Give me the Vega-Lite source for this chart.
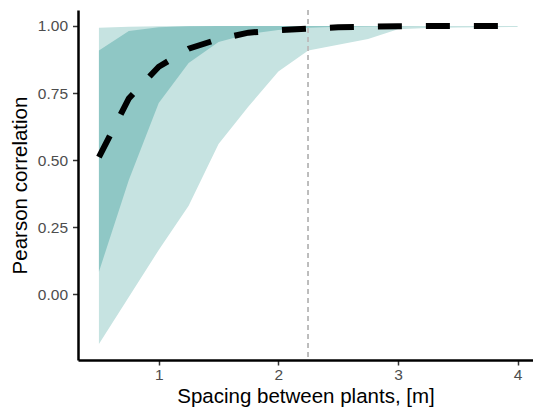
{
  "$schema": "https://vega.github.io/schema/vega-lite/v6.json",
  "width": 455,
  "height": 350,
  "autosize": {"type": "none"},
  "padding": {"left": 78, "top": 10, "right": 0, "bottom": 50},
  "background": "white",
  "config": {"view": {"stroke": null}, "font": "Liberation Sans"},
  "data": {
    "values": [
      {"x": 0.5, "outer_lo": -0.185, "outer_hi": 0.993, "inner_lo": 0.084, "inner_hi": 0.909, "median": 0.511},
      {"x": 0.75, "outer_lo": -0.01, "outer_hi": 0.997, "inner_lo": 0.426, "inner_hi": 0.981, "median": 0.73},
      {"x": 1.0, "outer_lo": 0.165, "outer_hi": 0.999, "inner_lo": 0.713, "inner_hi": 0.995, "median": 0.848},
      {"x": 1.25, "outer_lo": 0.33, "outer_hi": 1.0, "inner_lo": 0.862, "inner_hi": 0.999, "median": 0.915},
      {"x": 1.5, "outer_lo": 0.56, "outer_hi": 1.0, "inner_lo": 0.94, "inner_hi": 1.0, "median": 0.951},
      {"x": 1.75, "outer_lo": 0.7, "outer_hi": 1.0, "inner_lo": 0.97, "inner_hi": 1.0, "median": 0.975},
      {"x": 2.0, "outer_lo": 0.83, "outer_hi": 1.0, "inner_lo": 0.985, "inner_hi": 1.0, "median": 0.984},
      {"x": 2.25, "outer_lo": 0.909, "outer_hi": 1.0, "inner_lo": 0.993, "inner_hi": 1.0, "median": 0.99},
      {"x": 2.5, "outer_lo": 0.93, "outer_hi": 1.0, "inner_lo": 0.997, "inner_hi": 1.0, "median": 0.995},
      {"x": 2.75, "outer_lo": 0.951, "outer_hi": 1.0, "inner_lo": 0.998, "inner_hi": 1.0, "median": 0.997},
      {"x": 3.0, "outer_lo": 0.988, "outer_hi": 1.0, "inner_lo": 0.999, "inner_hi": 1.0, "median": 0.999},
      {"x": 3.25, "outer_lo": 0.992, "outer_hi": 1.0, "inner_lo": 1.0, "inner_hi": 1.0, "median": 1.0},
      {"x": 3.5, "outer_lo": 0.994, "outer_hi": 1.0, "inner_lo": 1.0, "inner_hi": 1.0, "median": 1.0},
      {"x": 3.75, "outer_lo": 0.995, "outer_hi": 1.0, "inner_lo": 1.0, "inner_hi": 1.0, "median": 1.0},
      {"x": 4.0, "outer_lo": 0.996, "outer_hi": 1.0, "inner_lo": 1.0, "inner_hi": 1.0, "median": 1.0}
    ]
  },
  "layer": [
    {
      "mark": {"type": "area", "color": "#c6e3e1", "opacity": 1},
      "encoding": {
        "x": {
          "field": "x", "type": "quantitative",
          "scale": {"domain": [0.325, 4.129], "nice": false, "zero": false},
          "axis": {
            "values": [1, 2, 3, 4], "format": "d", "grid": false,
            "domainColor": "black", "domainWidth": 2.5,
            "tickColor": "#333333", "tickSize": 5, "tickWidth": 1.5,
            "labelFontSize": 15.5, "labelColor": "#4d4d4d", "labelPadding": 2,
            "title": "Spacing between plants, [m]",
            "titleFontSize": 20.5, "titleFontWeight": "normal", "titleColor": "black", "titlePadding": 4
          }
        },
        "y": {
          "field": "outer_lo", "type": "quantitative",
          "scale": {"domain": [-0.245, 1.0595], "nice": false, "zero": false},
          "axis": {
            "values": [0, 0.25, 0.5, 0.75, 1], "format": ".2f", "grid": false,
            "domainColor": "black", "domainWidth": 2.5,
            "tickColor": "#333333", "tickSize": 5.5, "tickWidth": 1.5,
            "labelFontSize": 15.5, "labelColor": "#4d4d4d", "labelPadding": 5,
            "title": "Pearson correlation",
            "titleFontSize": 20.5, "titleFontWeight": "normal", "titleColor": "black", "titlePadding": 7
          }
        },
        "y2": {"field": "outer_hi"}
      }
    },
    {
      "mark": {"type": "area", "color": "#8fc7c5", "opacity": 1},
      "encoding": {
        "x": {"field": "x", "type": "quantitative"},
        "y": {"field": "inner_lo", "type": "quantitative"},
        "y2": {"field": "inner_hi"}
      }
    },
    {
      "mark": {"type": "line", "color": "black", "strokeWidth": 6, "strokeDash": [24, 24], "strokeCap": "butt"},
      "encoding": {
        "x": {"field": "x", "type": "quantitative"},
        "y": {"field": "median", "type": "quantitative"}
      }
    },
    {
      "mark": {"type": "rule", "color": "#bdbdbd", "strokeDash": [5, 4], "strokeWidth": 1.2},
      "encoding": {"x": {"datum": 2.25}}
    }
  ]
}
